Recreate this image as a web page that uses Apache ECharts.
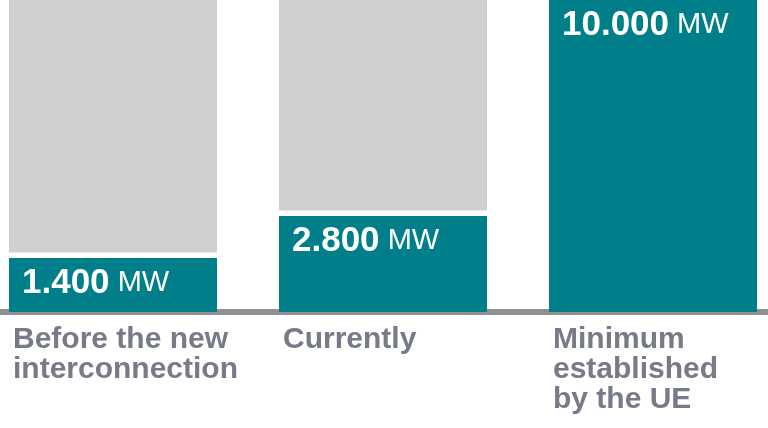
<!DOCTYPE html>
<html>
<head>
<meta charset="utf-8">
<script src="https://cdn.jsdelivr.net/npm/echarts@6/dist/echarts.min.js"></script>
<style>
html,body{margin:0;padding:0;background:#fff;}
#c{width:768px;height:428px;}
</style>
</head>
<body>
<div id="c"></div>
<script>
// Data
const categories = ['Before the new\ninterconnection', 'Currently', 'Minimum\nestablished\nby the UE'];
const values = [1400, 2800, 10000];   // MW
const unit = 'MW';
const maxValue = 10000;

// Visual constants (not data)
const FLOOR = 400;   // visual floor under each bar
const GAP = 180;     // white gap between teal and grey parts
const TEAL = '#007f8b';
const GREY = '#cfcfcf';

function fmt(v) {
  return String(v).replace(/\B(?=(\d{3})+(?!\d))/g, '.');
}

const tealData = values.map(v => v + FLOOR);
const gapData = values.map(v => (v >= maxValue ? 0 : GAP));
const restData = values.map(v => Math.max(0, maxValue - v - (v >= maxValue ? 0 : GAP)));

const chart = echarts.init(document.getElementById('c'));
chart.setOption({
  animation: false,
  grid: { left: -22, right: -20, top: 0, bottom: 116, containLabel: false, outerBoundsMode: 'none' },
  xAxis: {
    type: 'category',
    data: categories,
    offset: 3,
    axisTick: { show: false },
    axisLine: { lineStyle: { color: '#8f8f8f', width: 6 } },
    axisLabel: {
      margin: 10,
      interval: 0,
      formatter: function (t) { return '{a|' + t.split('\n').join('}\n{a|') + '}'; },
      rich: {
        a: {
          width: 200, align: 'left',
          fontFamily: 'Liberation Sans', fontWeight: 'bold', fontSize: 30, lineHeight: 30,
          color: '#777a87'
        }
      }
    }
  },
  yAxis: { type: 'value', min: 0, max: maxValue + FLOOR, show: false, splitLine: { show: false } },
  series: [
    {
      type: 'bar', stack: 's', barWidth: 208, data: tealData,
      itemStyle: { color: TEAL },
      label: {
        show: true, position: 'insideTopLeft', distance: 0, offset: [13, 7],
        formatter: function (p) { return '{n|' + fmt(values[p.dataIndex]) + '}{u| ' + unit + '}'; },
        rich: {
          n: { fontFamily: 'Liberation Sans', fontWeight: 'bold', fontSize: 35, lineHeight: 36, color: '#fff' },
          u: { fontFamily: 'Liberation Sans', fontWeight: 'normal', fontSize: 29, lineHeight: 36, color: '#fff' }
        }
      }
    },
    { type: 'bar', stack: 's', barWidth: 208, data: gapData, itemStyle: { color: '#ffffff' }, silent: true },
    { type: 'bar', stack: 's', barWidth: 208, data: restData, itemStyle: { color: GREY }, silent: true }
  ]
});
</script>
</body>
</html>
